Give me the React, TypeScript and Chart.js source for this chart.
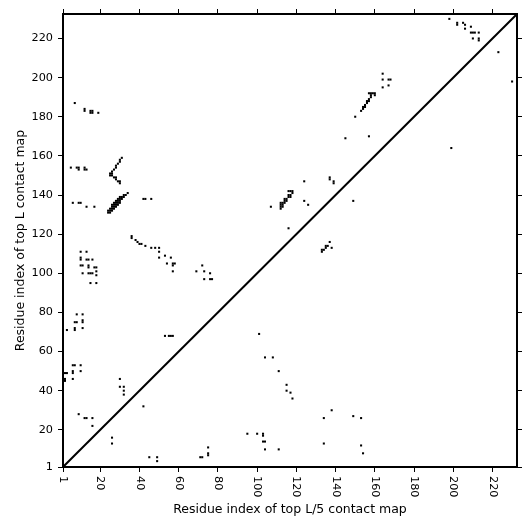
import React, { useEffect, useRef } from "react";
import { Chart, registerables } from "chart.js";

Chart.register(...registerables);

// ---------- data ----------
const tickValues: number[] = [1, 20, 40, 60, 80, 100, 120, 140, 160, 180, 200, 220];
const axisMin = 1;
const axisMax = 232.5;

const xAxisTitle = "Residue index of top L/5 contact map";
const yAxisTitle = "Residue index of top L contact map";

// upper-left triangle: top L contacts [x, y]
const topLContacts: [number, number][] = [
  [7, 187], [12, 184], [12, 183], [15, 183], [16, 183], [15, 182], [16, 182], [19, 182],
  [5, 154], [8, 154], [9, 154], [9, 153], [12, 153], [13, 153], [12, 154],
  [31, 159], [30, 158], [30, 157], [29, 156], [28, 155], [28, 154], [27, 153], [26, 152], [26, 151], [25, 151],
  [25, 150], [26, 150], [27, 149], [28, 149], [28, 148], [29, 147], [30, 147], [30, 146],
  [6, 136], [9, 136], [10, 136], [13, 134], [17, 134],
  [24, 131], [24, 132], [25, 132], [25, 133], [26, 133], [26, 134], [27, 134], [27, 135], [28, 135], [28, 136],
  [29, 136], [29, 137], [30, 137], [30, 138], [31, 138], [31, 139], [32, 139], [32, 140], [33, 140], [34, 141],
  [25, 131], [26, 132], [27, 133], [28, 134], [29, 135], [30, 136], [26, 135], [27, 136], [28, 137], [29, 138], [30, 139],
  [42, 138], [43, 138], [46, 138],
  [36, 119], [36, 118], [38, 117], [39, 116], [40, 115], [41, 115], [43, 114], [46, 113], [48, 113], [50, 113],
  [50, 111], [50, 108], [53, 109], [56, 108], [54, 105], [57, 105], [58, 105], [57, 104], [57, 101],
  [72, 104], [69, 101], [73, 101], [76, 100], [73, 97], [76, 97], [77, 97],
  [10, 111], [13, 111], [10, 108], [10, 107], [13, 107], [14, 107], [16, 107], [10, 104], [11, 104], [14, 104],
  [14, 103], [17, 103], [18, 103], [11, 100], [14, 100], [15, 100], [16, 100], [18, 101], [18, 99], [15, 95], [18, 95],
  [8, 79], [11, 79], [7, 75], [8, 75], [11, 76], [11, 75], [3, 71], [7, 72], [7, 71], [11, 72],
  [6, 53], [7, 53], [10, 53], [6, 50], [10, 50], [2, 49], [3, 49], [6, 49], [2, 46], [2, 45], [6, 46],
  [9, 28], [12, 26], [13, 26], [16, 26], [16, 22],
  [30, 46], [30, 42], [32, 42], [32, 40], [32, 38],
  [53, 68], [55, 68], [56, 68], [57, 68],
  [116, 142], [117, 142], [118, 142], [118, 141], [116, 140], [117, 140], [117, 139], [116, 139], [114, 138], [115, 138],
  [114, 137], [115, 137], [112, 136], [113, 136], [114, 136], [112, 135], [113, 135], [112, 134], [113, 134], [112, 133],
  [107, 134], [116, 123], [124, 147], [124, 137], [126, 135], [137, 149], [137, 148], [139, 147], [139, 146],
  [198, 230], [202, 228], [202, 227], [205, 228], [206, 227], [206, 225], [209, 226], [209, 223], [210, 223],
  [211, 223], [213, 223], [210, 220], [213, 220], [213, 219],
  [153, 183], [154, 184], [154, 185], [155, 185], [155, 186], [156, 187], [156, 188], [157, 188], [157, 189],
  [158, 190], [158, 191], [157, 192], [158, 192], [159, 192], [160, 192], [160, 191],
  [150, 180], [145, 169], [157, 170], [164, 202], [164, 199], [167, 199], [168, 199], [164, 195], [167, 196],
];

// lower-right triangle: top L/5 contacts [x, y]
const topL5Contacts: [number, number][] = [
  [101, 69], [104, 57], [108, 57], [111, 50], [115, 43], [115, 40], [117, 39], [118, 36],
  [138, 30], [134, 26], [149, 27], [153, 26], [134, 13], [153, 12], [154, 8],
  [95, 18], [100, 18], [103, 18], [103, 17], [103, 14], [104, 14], [104, 10], [111, 10],
  [71, 6], [72, 6], [75, 11], [75, 8], [75, 7],
  [26, 16], [26, 13], [45, 6], [49, 6], [49, 4], [42, 32],
  [137, 116], [135, 114], [136, 114], [135, 113], [138, 113], [133, 112], [134, 112], [133, 111],
  [149, 137], [199, 164], [230, 198], [223, 213],
];

const diagonal: [number, number][] = [[axisMin, axisMin], [axisMax, axisMax]];

// ---------- chart ----------
const FONT = "DejaVu Sans";

// x tick labels turned a quarter turn clockwise (reading top to bottom)
const xTickLabelPlugin = {
  id: "xTickLabelsRotated",
  afterDraw(chart: any) {
    const s = chart.scales.x;
    const ctx = chart.ctx as CanvasRenderingContext2D;
    const y0 = chart.chartArea.bottom + 9;
    for (const v of tickValues) {
      const px = s.getPixelForValue(v);
      ctx.save();
      ctx.font = `11.25px "${FONT}"`;
      ctx.fillStyle = "#000";
      ctx.textAlign = "left";
      ctx.textBaseline = "middle";
      ctx.translate(px, y0);
      ctx.rotate(Math.PI / 2);
      ctx.fillText(String(v), 0, 0);
      ctx.restore();
    }
  },
};

const setTicks = (s: any) => {
  s.ticks = tickValues.map((v) => ({ value: v }));
};

const gridOpts = () => ({
  drawOnChartArea: false,
  drawTicks: true,
  tickLength: 5,
  tickWidth: 1,
  color: "#000",
  tickColor: "#000",
});
const borderOpts = () => ({ display: true, color: "#000", width: 2 });

export default function App() {
  const ref = useRef<HTMLCanvasElement | null>(null);

  useEffect(() => {
    if (!ref.current) return;
    const toPts = (arr: [number, number][]) => arr.map(([x, y]) => ({ x, y }));
    const chart = new Chart(ref.current, {
      type: "scatter",
      data: {
        datasets: [
          { data: toPts(diagonal), showLine: true, borderColor: "#000", borderWidth: 2, pointRadius: 0, backgroundColor: "#000" } as any,
          { data: toPts(topLContacts), pointStyle: "rect", pointRadius: 1.45, pointBorderWidth: 0, backgroundColor: "#000", borderColor: "#000" } as any,
          { data: toPts(topL5Contacts), pointStyle: "rect", pointRadius: 1.45, pointBorderWidth: 0, backgroundColor: "#000", borderColor: "#000" } as any,
        ],
      },
      options: {
        animation: false,
        responsive: false,
        devicePixelRatio: 1,
        events: [],
        layout: { padding: 0 },
        plugins: { legend: { display: false }, tooltip: { enabled: false } },
        scales: {
          x: {
            type: "linear", position: "bottom", min: axisMin, max: axisMax,
            afterBuildTicks: setTicks,
            afterFit: (s: any) => { s.height = 64; },
            ticks: { display: false },
            grid: gridOpts(), border: borderOpts(),
            title: { display: true, text: xAxisTitle, color: "#000", font: { family: FONT, size: 12.5 }, padding: { top: 0, bottom: 13.5 } },
          },
          xTop: {
            type: "linear", position: "top", min: axisMin, max: axisMax,
            afterBuildTicks: setTicks,
            afterFit: (s: any) => { s.height = 14; },
            ticks: { display: false },
            grid: gridOpts(), border: borderOpts(),
          },
          y: {
            type: "linear", position: "left", min: axisMin, max: axisMax,
            afterBuildTicks: setTicks,
            afterFit: (s: any) => { s.width = 63; },
            ticks: { color: "#000", padding: 5, font: { family: FONT, size: 11.25 } },
            grid: gridOpts(), border: borderOpts(),
            title: { display: true, text: yAxisTitle, color: "#000", font: { family: FONT, size: 12.5 }, padding: { top: 13, bottom: 0 } },
          },
          yRight: {
            type: "linear", position: "right", min: axisMin, max: axisMax,
            afterBuildTicks: setTicks,
            afterFit: (s: any) => { s.width = 14; },
            ticks: { display: false },
            grid: gridOpts(), border: borderOpts(),
          },
        },
      } as any,
      plugins: [xTickLabelPlugin],
    });
    return () => chart.destroy();
  }, []);

  return (
    <div style={{ position: "fixed", left: 0, top: 0, width: 531, height: 531, background: "#fff" }}>
      <canvas ref={ref} width={531} height={531} style={{ display: "block", width: 531, height: 531 }} />
    </div>
  );
}
